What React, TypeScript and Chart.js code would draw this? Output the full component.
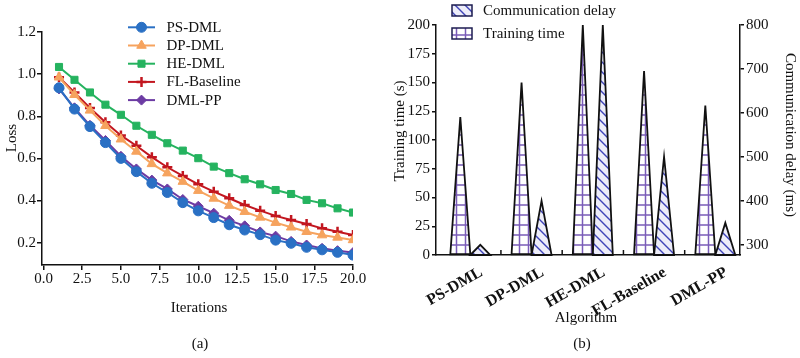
import React, { useEffect, useRef } from 'react';
import { Chart, registerables } from 'chart.js';
import { drawPoint } from 'chart.js/helpers';

Chart.register(...registerables);

const FONT = "'Liberation Serif', 'Times New Roman', serif";
Chart.defaults.font.family = FONT;
Chart.defaults.color = '#111';

// ---------- Panel (a): loss curves ----------
const iterations = [1, 2, 3, 4, 5, 6, 7, 8, 9, 10, 11, 12, 13, 14, 15, 16, 17, 18, 19, 20];
const psDml = [0.935, 0.834, 0.751, 0.675, 0.600, 0.537, 0.482, 0.438, 0.390, 0.351, 0.319, 0.285, 0.260, 0.238, 0.212, 0.197, 0.178, 0.166, 0.154, 0.141];
const dpDml = [0.985, 0.902, 0.828, 0.755, 0.691, 0.633, 0.574, 0.530, 0.490, 0.447, 0.410, 0.376, 0.347, 0.320, 0.295, 0.273, 0.252, 0.236, 0.225, 0.213];
const heDml = [1.034, 0.973, 0.913, 0.855, 0.807, 0.755, 0.712, 0.672, 0.637, 0.601, 0.561, 0.530, 0.501, 0.477, 0.450, 0.431, 0.403, 0.387, 0.363, 0.343];
const flBaseline = [0.985, 0.913, 0.839, 0.772, 0.709, 0.660, 0.606, 0.558, 0.517, 0.477, 0.442, 0.411, 0.379, 0.352, 0.327, 0.308, 0.289, 0.268, 0.252, 0.236];
const dmlPp = [0.930, 0.840, 0.757, 0.685, 0.610, 0.550, 0.497, 0.455, 0.405, 0.373, 0.340, 0.306, 0.280, 0.251, 0.231, 0.206, 0.189, 0.173, 0.162, 0.153];
const lossTicks = [0.2, 0.4, 0.6, 0.8, 1.0, 1.2];
const iterTicks = [0, 2.5, 5, 7.5, 10, 12.5, 15, 17.5, 20];

// ---------- Panel (b): training time / communication delay ----------
const algorithms = ['PS-DML', 'DP-DML', 'HE-DML', 'FL-Baseline', 'DML-PP'];
const trainingTime = [120, 150, 200, 160, 130];
const commDelay = [300, 400, 800, 500, 350];
const trainTicks = [0, 25, 50, 75, 100, 125, 150, 175, 200];
const delayTicks = [300, 400, 500, 600, 700, 800];
const delayAxisMin = 277;
const delayAxisMax = 800;

const lossSeries = [
  { label: 'PS-DML', data: psDml, color: '#2a70c4', style: 'circle', r: 5, bw: 1 },
  { label: 'DP-DML', data: dpDml, color: '#f6a35e', style: 'triangle', r: 5.5, bw: 1 },
  { label: 'HE-DML', data: heDml, color: '#25b35f', style: 'rect', r: 5, bw: 1 },
  { label: 'FL-Baseline', data: flBaseline, color: '#c2161f', style: 'cross', r: 5, bw: 2.5 },
  { label: 'DML-PP', data: dmlPp, color: '#6c3ba3', style: 'rectRot', r: 5, bw: 1 },
];

function zeroPad(scale: any) {
  scale.paddingLeft = 0;
  scale.paddingRight = 0;
  scale.paddingTop = 0;
  scale.paddingBottom = 0;
}

function text(ctx: CanvasRenderingContext2D, s: string, x: number, y: number, size: number, rot = 0, weight = 'normal') {
  ctx.save();
  ctx.translate(x, y);
  ctx.rotate(rot);
  ctx.font = `${weight} ${size}px ${FONT}`;
  ctx.fillStyle = '#111';
  ctx.textAlign = 'center';
  ctx.textBaseline = 'middle';
  ctx.fillText(s, 0, 0);
  ctx.restore();
}

// canvas (a) spans page x 0..380
function makeLossChart(canvas: HTMLCanvasElement) {
  const legendPlugin = {
    id: 'lossLegend',
    afterDraw(chart: any) {
      const ctx = chart.ctx as CanvasRenderingContext2D;
      ctx.save();
      chart.data.datasets.forEach((ds: any, i: number) => {
        const y = 27.3 + i * 18.2;
        ctx.strokeStyle = ds.borderColor;
        ctx.lineWidth = 2;
        ctx.beginPath();
        ctx.moveTo(128, y);
        ctx.lineTo(155, y);
        ctx.stroke();
        ctx.fillStyle = ds.pointBackgroundColor;
        ctx.strokeStyle = ds.pointBorderColor;
        ctx.lineWidth = ds.pointBorderWidth;
        drawPoint(ctx, { pointStyle: ds.pointStyle, radius: ds.pointRadius, rotation: 0, borderWidth: ds.pointBorderWidth } as any, 141.5, y);
        ctx.font = `15px ${FONT}`;
        ctx.fillStyle = '#111';
        ctx.textAlign = 'left';
        ctx.textBaseline = 'middle';
        ctx.fillText(ds.label, 166.5, y + 0.5);
      });
      ctx.restore();
      text(ctx, 'Loss', 12, 138, 15, -Math.PI / 2);
      text(ctx, 'Iterations', 199, 308, 15);
      text(ctx, '(a)', 200, 344, 15);
    },
  };

  return new Chart(canvas, {
    type: 'line',
    data: {
      datasets: lossSeries.map((s) => ({
        label: s.label,
        data: iterations.map((x, i) => ({ x, y: s.data[i] })),
        borderColor: s.color,
        backgroundColor: s.color,
        borderWidth: 2,
        pointStyle: s.style as any,
        pointRadius: s.r,
        pointBackgroundColor: s.color,
        pointBorderColor: s.color,
        pointBorderWidth: s.bw,
        tension: 0,
      })),
    },
    options: {
      responsive: false,
      animation: false,
      devicePixelRatio: 1,
      layout: { padding: { left: 0, top: 32, right: 27, bottom: 0 } },
      plugins: { legend: { display: false }, tooltip: { enabled: false } },
      scales: {
        x: {
          type: 'linear',
          min: -0.1,
          max: 20,
          afterBuildTicks: (scale: any) => {
            scale.ticks = iterTicks.map((v) => ({ value: v }));
          },
          afterFit: (scale: any) => {
            scale.height = 358 - 265;
            zeroPad(scale);
          },
          ticks: {
            callback: (v: any) => Number(v).toFixed(1),
            font: { size: 15 },
            color: '#111',
            padding: 0,
            maxRotation: 0,
            autoSkip: false,
          },
          grid: { drawOnChartArea: false, drawTicks: true, tickLength: 5, color: '#111', lineWidth: 1.5 },
          border: { display: true, color: '#111', width: 1.5 },
        },
        y: {
          type: 'linear',
          min: 0.094,
          max: 1.2,
          afterBuildTicks: (scale: any) => {
            scale.ticks = lossTicks.map((v) => ({ value: v }));
          },
          afterFit: (scale: any) => {
            scale.width = 42;
            zeroPad(scale);
          },
          ticks: {
            callback: (v: any) => Number(v).toFixed(1),
            font: { size: 15 },
            color: '#111',
            padding: 1,
          },
          grid: { drawOnChartArea: false, drawTicks: true, tickLength: 5, color: '#111', lineWidth: 1.5 },
          border: { display: true, color: '#111', width: 1.5 },
        },
      },
    } as any,
    plugins: [legendPlugin],
  });
}

// canvas (b) starts at page x = 380 so the left title can sit at ~400
function makeAlgoChart(canvas: HTMLCanvasElement) {
  const ctx0 = canvas.getContext('2d')!;

  const tileT = document.createElement('canvas');
  tileT.width = 9;
  tileT.height = 10;
  const gt = tileT.getContext('2d')!;
  gt.fillStyle = '#ffffff';
  gt.fillRect(0, 0, 9, 10);
  gt.strokeStyle = '#7a5cb8';
  gt.lineWidth = 1.5;
  gt.beginPath();
  gt.moveTo(0, 5);
  gt.lineTo(9, 5);
  gt.moveTo(4.5, 0);
  gt.lineTo(4.5, 10);
  gt.stroke();
  const trainPattern = ctx0.createPattern(tileT, 'repeat')!;

  const tileD = document.createElement('canvas');
  tileD.width = 10;
  tileD.height = 10;
  const gd = tileD.getContext('2d')!;
  gd.fillStyle = '#ededf9';
  gd.fillRect(0, 0, 10, 10);
  gd.strokeStyle = '#3f44b8';
  gd.lineWidth = 1.4;
  gd.beginPath();
  gd.moveTo(0, 0);
  gd.lineTo(10, 10);
  gd.moveTo(-2, 8);
  gd.lineTo(2, 12);
  gd.moveTo(8, -2);
  gd.lineTo(12, 2);
  gd.stroke();
  const delayPattern = ctx0.createPattern(tileD, 'repeat')!;

  const trianglePlugin = {
    id: 'triangles',
    afterDatasetsDraw(chart: any) {
      const ctx = chart.ctx as CanvasRenderingContext2D;
      ctx.save();
      chart.data.datasets.forEach((ds: any, di: number) => {
        const meta = chart.getDatasetMeta(di);
        meta.data.forEach((bar: any) => {
          const { x, y, base, width } = bar.getProps(['x', 'y', 'base', 'width'], true);
          ctx.beginPath();
          ctx.moveTo(x - width / 2, base);
          ctx.lineTo(x, y);
          ctx.lineTo(x + width / 2, base);
          ctx.closePath();
          ctx.fillStyle = ds.hatch;
          ctx.fill();
          ctx.strokeStyle = '#111';
          ctx.lineWidth = 1.8;
          ctx.lineJoin = 'miter';
          ctx.stroke();
        });
      });
      // inward tick marks between groups
      const xs = chart.scales.x;
      const bottom = chart.chartArea.bottom;
      ctx.strokeStyle = '#111';
      ctx.lineWidth = 1.5;
      for (let i = 1; i < algorithms.length; i++) {
        const px = xs.getPixelForValue(i - 0.5);
        ctx.beginPath();
        ctx.moveTo(px, bottom);
        ctx.lineTo(px, bottom - 5);
        ctx.stroke();
      }
      ctx.restore();
    },
    afterDraw(chart: any) {
      const ctx = chart.ctx as CanvasRenderingContext2D;
      const items = [
        { label: 'Communication delay', hatch: delayPattern, y: 10.5 },
        { label: 'Training time', hatch: trainPattern, y: 33.5 },
      ];
      ctx.save();
      items.forEach((it) => {
        ctx.fillStyle = it.hatch;
        ctx.fillRect(72, it.y - 5.5, 20, 11);
        ctx.strokeStyle = '#1c1c50';
        ctx.lineWidth = 1.5;
        ctx.strokeRect(72, it.y - 5.5, 20, 11);
        ctx.font = `15px ${FONT}`;
        ctx.fillStyle = '#111';
        ctx.textAlign = 'left';
        ctx.textBaseline = 'middle';
        ctx.fillText(it.label, 103, it.y + 0.5);
      });
      ctx.restore();
      text(ctx, 'Training time (s)', 20, 131, 15, -Math.PI / 2);
      text(ctx, 'Communication delay (ms)', 410, 135, 15, Math.PI / 2);
      text(ctx, 'Algorithm', 206, 318, 15);
      text(ctx, '(b)', 202, 344, 15);
    },
  };

  return new Chart(canvas, {
    type: 'bar',
    data: {
      datasets: [
        {
          label: 'Training time',
          data: algorithms.map((_, i) => ({ x: i, y: trainingTime[i] })),
          yAxisID: 'y',
          backgroundColor: 'rgba(0,0,0,0)',
          borderWidth: 0,
          hatch: trainPattern,
        } as any,
        {
          label: 'Communication delay',
          data: algorithms.map((_, i) => ({ x: i, y: commDelay[i] })),
          yAxisID: 'y1',
          base: delayAxisMin,
          backgroundColor: 'rgba(0,0,0,0)',
          borderWidth: 0,
          hatch: delayPattern,
        } as any,
      ],
    },
    options: {
      responsive: false,
      animation: false,
      devicePixelRatio: 1,
      layout: { padding: { left: 0, top: 25, right: 0, bottom: 0 } },
      plugins: { legend: { display: false }, tooltip: { enabled: false } },
      datasets: { bar: { categoryPercentage: 0.653, barPercentage: 1 } },
      scales: {
        x: {
          type: 'linear',
          min: -0.56,
          max: 4.403,
          offset: false,
          afterBuildTicks: (scale: any) => {
            scale.ticks = algorithms.map((_, i) => ({ value: i }));
          },
          afterFit: (scale: any) => {
            scale.height = 358 - 255;
            zeroPad(scale);
          },
          ticks: {
            callback: (_v: any, idx: number) => algorithms[idx],
            font: { size: 16, weight: 'bold' },
            color: '#111',
            minRotation: 30,
            maxRotation: 30,
            autoSkip: false,
            labelOffset: 11,
            padding: 8,
          },
          grid: { display: true, drawOnChartArea: false, drawTicks: false, color: 'rgba(0,0,0,0)' },
          border: { display: true, color: '#111', width: 1.5 },
        },
        y: {
          type: 'linear',
          position: 'left',
          min: 0,
          max: 200,
          afterBuildTicks: (scale: any) => {
            scale.ticks = trainTicks.map((v) => ({ value: v }));
          },
          afterFit: (scale: any) => {
            scale.width = 56;
            zeroPad(scale);
          },
          ticks: { font: { size: 15 }, color: '#111', padding: 2 },
          grid: { drawOnChartArea: false, drawTicks: true, tickLength: 4, color: '#111', lineWidth: 1.5 },
          border: { display: true, color: '#111', width: 1.5 },
        },
        y1: {
          type: 'linear',
          position: 'right',
          min: delayAxisMin,
          max: delayAxisMax,
          afterBuildTicks: (scale: any) => {
            scale.ticks = delayTicks.map((v) => ({ value: v }));
          },
          afterFit: (scale: any) => {
            scale.width = 60;
            zeroPad(scale);
          },
          ticks: { font: { size: 15 }, color: '#111', padding: 2 },
          grid: { drawOnChartArea: false, drawTicks: true, tickLength: 4, color: '#111', lineWidth: 1.5 },
          border: { display: true, color: '#111', width: 1.5 },
        },
      },
    } as any,
    plugins: [trianglePlugin],
  });
}

export default function App() {
  const refA = useRef<HTMLCanvasElement>(null);
  const refB = useRef<HTMLCanvasElement>(null);
  useEffect(() => {
    const a = makeLossChart(refA.current!);
    const b = makeAlgoChart(refB.current!);
    return () => {
      a.destroy();
      b.destroy();
    };
  }, []);
  return (
    <div style={{ position: 'absolute', left: 0, top: 0, width: 800, height: 358, background: '#fff' }}>
      <canvas ref={refA} width={380} height={358} style={{ position: 'absolute', left: 0, top: 0, width: 380, height: 358 }} />
      <canvas ref={refB} width={420} height={358} style={{ position: 'absolute', left: 380, top: 0, width: 420, height: 358 }} />
    </div>
  );
}
